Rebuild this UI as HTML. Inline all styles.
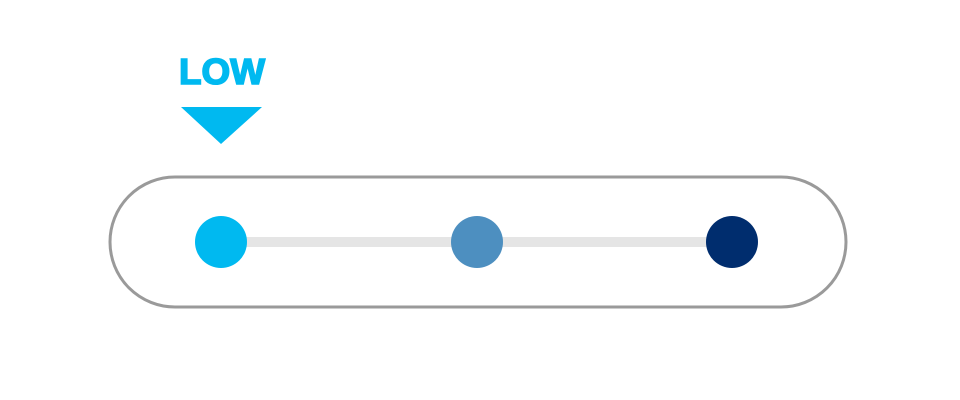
<!DOCTYPE html>
<html><head><style>html,body{margin:0;padding:0;background:#fff;width:960px;height:400px;overflow:hidden}</style></head>
<body>
<svg width="960" height="400" viewBox="0 0 960 400" xmlns="http://www.w3.org/2000/svg">
<text x="222" y="84" text-anchor="middle" font-family="Liberation Sans, sans-serif" font-weight="bold" font-size="36" fill="#00b9f0" stroke="#00b9f0" stroke-width="1.6" textLength="86" lengthAdjust="spacingAndGlyphs">LOW</text>
<polygon points="181,107 262,107 221,144" fill="#00b9f0"/>
<rect x="110" y="177" width="736" height="130" rx="65" ry="65" fill="none" stroke="#9a9a9a" stroke-width="3"/>
<line x1="221" y1="242" x2="732" y2="242" stroke="#e5e5e5" stroke-width="10"/>
<circle cx="221" cy="242" r="26" fill="#00b9f0"/>
<circle cx="477" cy="242" r="26" fill="#4d8fc0"/>
<circle cx="732" cy="242" r="26" fill="#002d6e"/>
</svg>
</body></html>
